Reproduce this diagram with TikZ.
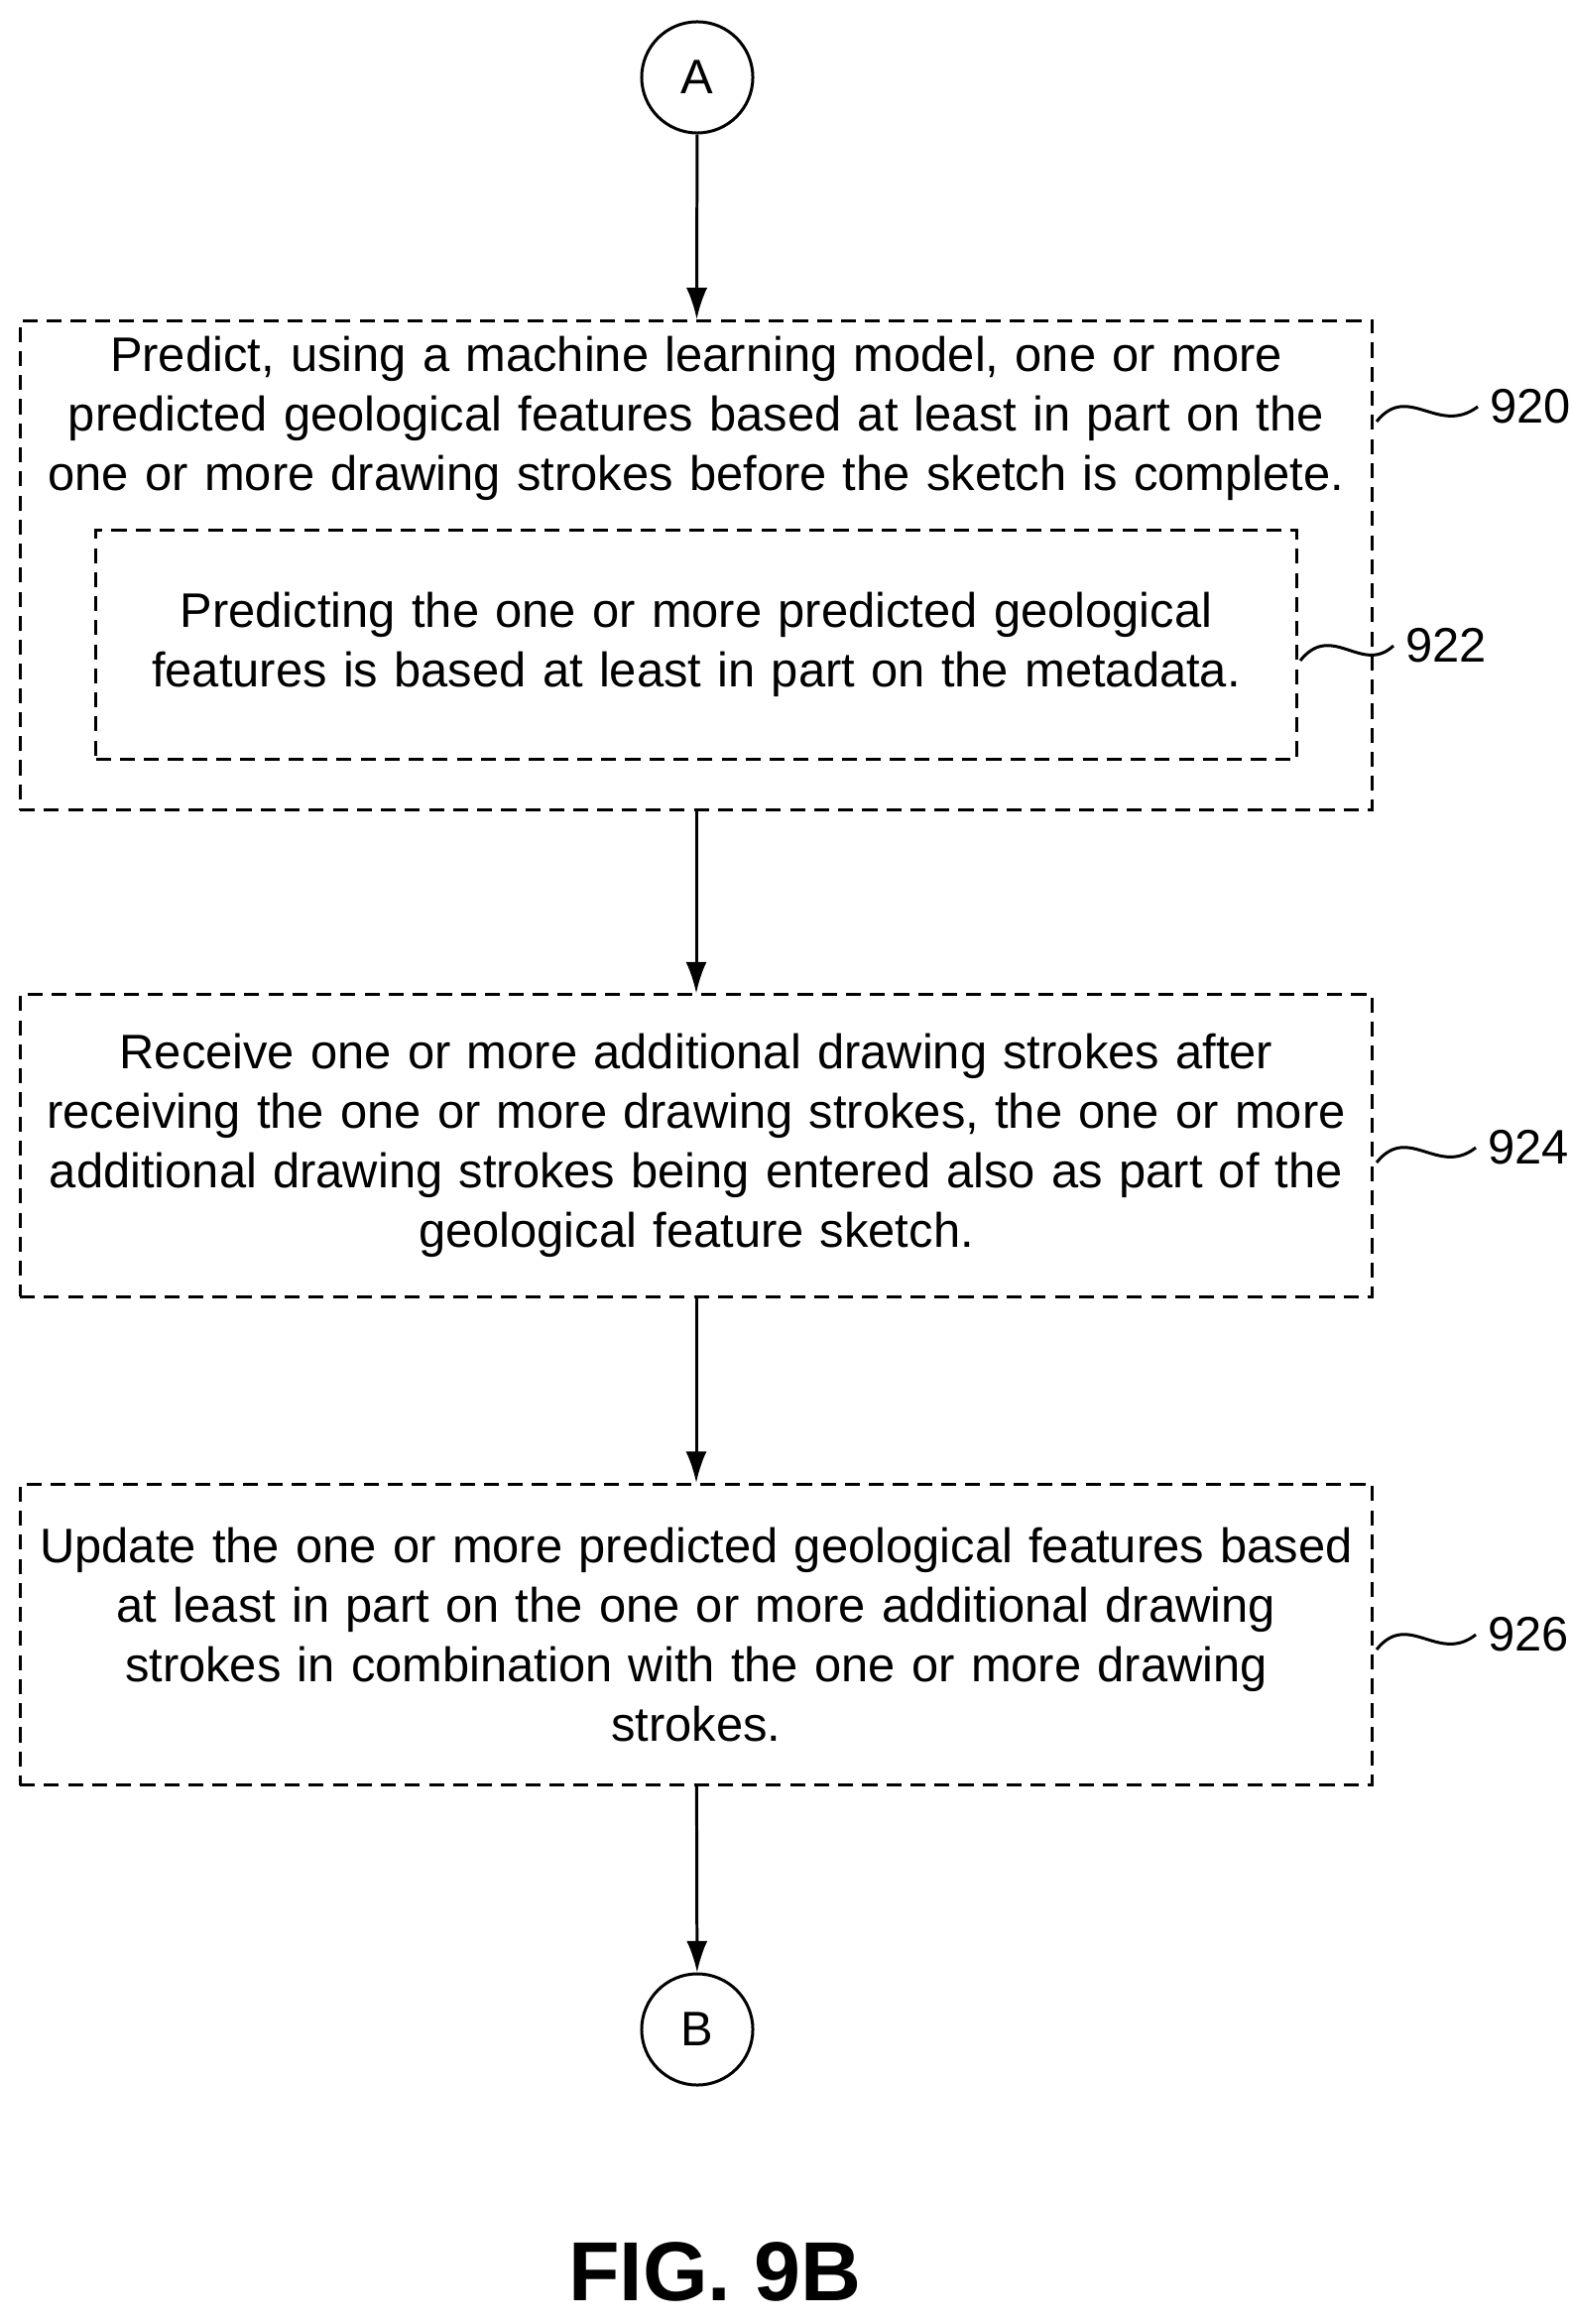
\documentclass[tikz,border=0pt]{standalone}
\usepackage{fontspec}
\setmainfont{Liberation Sans}
\usetikzlibrary{arrows.meta,positioning}
\begin{document}
\begin{tikzpicture}
  [
    x=0.01cm,y=-0.01cm,
    font=\fontsize{13.9}{17}\selectfont,
    step box/.style={draw,line width=0.85pt,dash pattern=on 4.3pt off 2.6pt,inner sep=0},
    step text/.style={align=center,text width=13.6cm,inner sep=0},
    term node/.style={circle,draw,line width=0.85pt,minimum size=1.12cm,inner sep=0},
    flow/.style={line width=0.85pt,-{Latex[length=9pt,width=6pt]}},
    ref/.style={line width=0.85pt},
  ]
  \useasboundingbox (0,0) rectangle (1584,2343);

  \node(A)[term node] at (703,78){A};
  \node(b920)[step box,minimum width=13.63cm,minimum height=4.93cm] at (702,570){};
  \node(t920)[step text] at (702,422){Predict, using a machine learning model, one or more\\predicted geological features based at least in part on the\\one or more drawing strokes before the sketch is complete.};
  \node(b922)[step box,minimum width=12.1cm,minimum height=2.3cm] at (702,650){};
  \node(t922)[step text,text width=12cm] at (702,650){Predicting the one or more predicted geological\\features is based at least in part on the metadata.};
  \node(b924)[step box,minimum width=13.63cm,minimum height=3.04cm] at (702,1155){};
  \node(t924)[step text] at (702,1155){Receive one or more additional drawing strokes after\\receiving the one or more drawing strokes, the one or more\\additional drawing strokes being entered also as part of the\\geological feature sketch.};
  \node(b926)[step box,minimum width=13.63cm,minimum height=3.03cm] at (702,1648){};
  \node(t926)[step text] at (702,1648){Update the one or more predicted geological features based\\at least in part on the one or more additional drawing\\strokes in combination with the one or more drawing\\strokes.};
  \node(B)[term node] at (703,2046){B};

  \draw[flow] (A) -- (b920);
  \draw[flow] (b920) -- (b924);
  \draw[flow] (b924) -- (b926);
  \draw[flow] (b926) -- (B);

  % reference numerals
  \node(n920)[anchor=west] at (1490,410){920};
  \node(n922)[anchor=west] at (1405,651){922};
  \node(n924)[anchor=west] at (1488,1157){924};
  \node(n926)[anchor=west] at (1488,1648){926};
  \draw[ref] (1388,425) .. controls (1420,385) and (1450,440) .. (n920.west);
  \draw[ref] (1311,666) .. controls (1343,626) and (1373,681) .. (n922.west);
  \draw[ref] (1388,1172) .. controls (1420,1132) and (1450,1187) .. (n924.west);
  \draw[ref] (1388,1663) .. controls (1420,1623) and (1450,1678) .. (n926.west);

  \node(fig)[font=\fontsize{24}{28}\selectfont\bfseries] at (721,2290){FIG. 9B};
\end{tikzpicture}
\end{document}
